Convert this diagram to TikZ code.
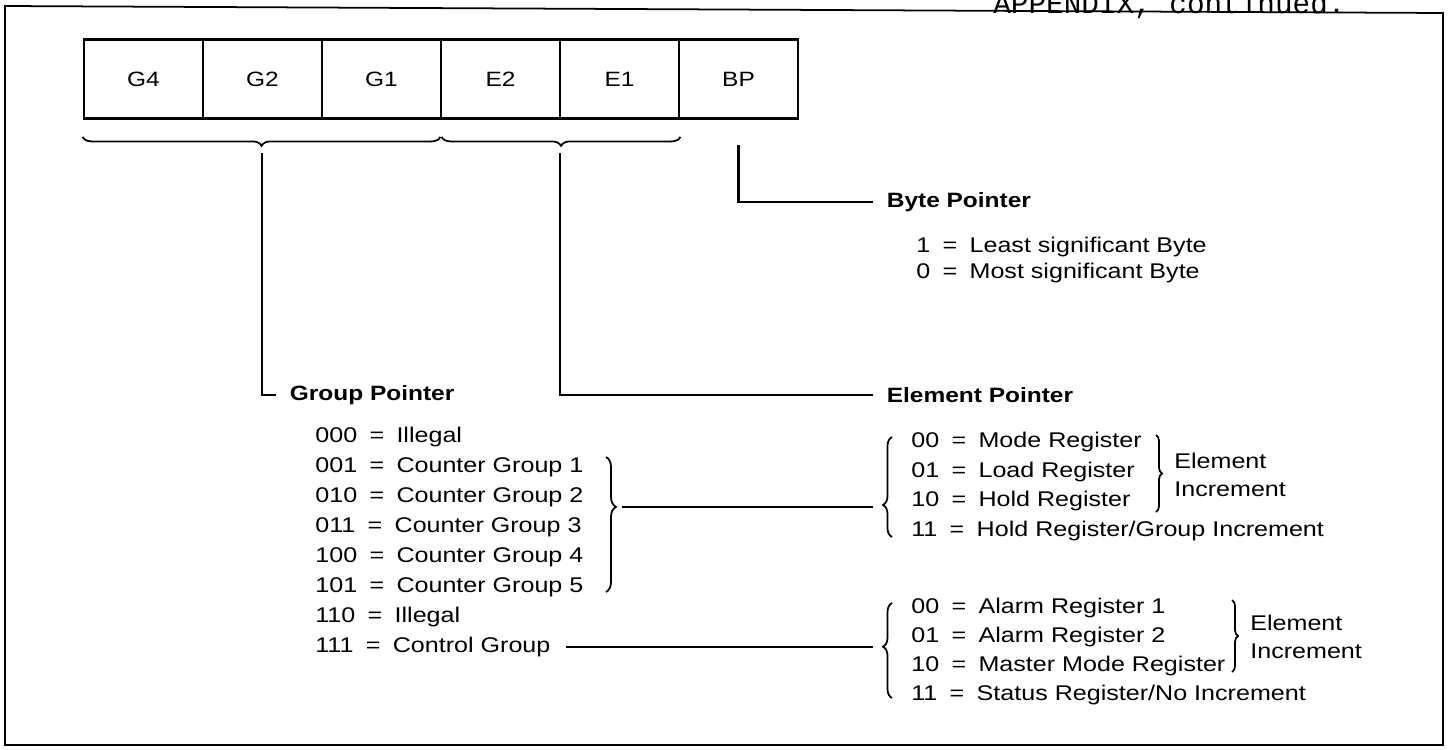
\documentclass[tikz,border=0pt]{standalone}
\usepackage{fontspec}
\setmainfont{Liberation Sans}[FakeStretch=1.18]
\newfontfamily\typefont{Liberation Mono}
\usetikzlibrary{decorations.pathreplacing}
\newcommand{\eqs}{\hspace{0.58em}=\hspace{0.58em}}
\newcommand{\txtsize}{\fontsize{11.8pt}{15.9pt}\selectfont}
\newcommand{\rowsize}{\fontsize{12.1pt}{15.9pt}\selectfont}

\begin{document}
\begin{tikzpicture}[x=0.2mm,y=-0.2mm,
        cell/.style={draw, line width=1.6pt, minimum width=23.8mm, minimum height=15.8mm, font=\txtsize},
        row/.style={anchor=west, inner sep=0pt, font=\rowsize},
        head/.style={anchor=west, inner xsep=2.7mm, inner ysep=0pt, font=\txtsize\bfseries},
        brc/.style={decorate, line width=1pt, decoration={brace,#1}},
        link/.style={line width=1.2pt}]
    \useasboundingbox (0,0) rectangle (1449,750);
    \draw[line width=1pt] (5,6) -- (1443,13) -- (1443,745) -- (5,745) -- cycle;
    \node[anchor=base west, inner sep=0pt, font=\typefont\fontsize{16.7pt}{16.7pt}\selectfont] (app) at (993,13) {APPENDIX, continued.};

    \foreach \lbl [count=\i] in {G4,G2,G1,E2,E1,BP}
        \node[cell] (c\i) at ({84+119*(\i-0.5)},79) {\lbl};

    \draw[brc={amplitude=1.8mm,mirror}] ([yshift=-3.4mm]c1.south west) -- ([yshift=-3.4mm,xshift=-0.4mm]c3.south east);
    \draw[brc={amplitude=1.8mm,mirror}] ([yshift=-3.4mm,xshift=0.4mm]c4.south west) -- ([yshift=-3.4mm]c5.south east);
    \coordinate (gtip) at (262,153);
    \coordinate (etip) at (560,153);

    \node[head] (bp) at (873,202) {Byte Pointer};
    \node[head] (gp) at (276,395) {Group Pointer};
    \node[head] (ep) at (873,395) {Element Pointer};
    \draw[link] (c6.south) ++(0,25) |- (bp.west);
    \draw[link] (gtip) |- (gp.west);
    \draw[link] (etip) |- (ep.west);

    \node[row] (b1) at (916,247) {1\eqs Least significant Byte};
    \node[row] (b0) at (916,273) {0\eqs Most significant Byte};

    \foreach \code/\txt [count=\i from 0] in {000/Illegal, 001/Counter Group 1, 010/Counter Group 2, 011/Counter Group 3,
            100/Counter Group 4, 101/Counter Group 5, 110/Illegal, 111/Control Group}
        \node[row] (g\i) at (315,{437+30*\i}) {\code\eqs\txt};
    \draw[brc={amplitude=2mm,aspect=0.37}] (606,457) -- (606,592);

    % Element Pointer, Zaehlergruppen
    \foreach \code/\txt [count=\i from 0] in {00/Mode Register, 01/Load Register, 10/Hold Register, 11/{Hold Register/Group Increment}}
        \node[row] (m\i) at (911,{442+29.5*\i}) {\code\eqs\txt};
    \draw[brc={amplitude=1.8mm,mirror,aspect=0.68}] (892,437) -- (892,537);
    \draw[brc={amplitude=1.2mm}] (1156,435) -- (1156,512);
    \node[row, align=left] (inc1) at (1174,475) {Element\\Increment};
    \coordinate (gout) at (622,507);
    \coordinate (ein1) at (873,507);
    \draw[link] (gout) -- (ein1);

    % Element Pointer, Control Group
    \foreach \code/\txt [count=\i from 0] in {00/Alarm Register 1, 01/Alarm Register 2, 10/Master Mode Register, 11/{Status Register/No Increment}}
        \node[row] (a\i) at (911,{608+29*\i}) {\code\eqs\txt};
    \draw[brc={amplitude=1.8mm,mirror,aspect=0.46}] (892,603) -- (892,698);
    \draw[brc={amplitude=1.2mm}] (1232,600) -- (1232,672);
    \node[row, align=left] (inc2) at (1250,637) {Element\\Increment};
    \coordinate (ein2) at (873,647);
    \draw[link] ([xshift=3mm]g7.east) -- (g7.east -| ein2);
\end{tikzpicture}
\end{document}
